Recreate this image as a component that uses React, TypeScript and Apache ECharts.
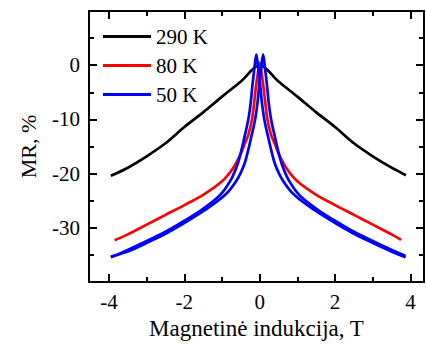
import React, { useEffect, useRef } from "react";
import * as echarts from "echarts";

// 290 K
const blackX = [-3.95, -3.5, -3, -2.5, -2, -1.5, -1, -0.5, 0, 0.5, 1, 1.5, 2, 2.5, 3, 3.5, 3.88];
const blackY = [-20.4, -18.9, -16.8, -14.4, -11.4, -8.7, -5.8, -3.0, 0, -3.0, -5.8, -8.7, -11.4, -14.4, -16.8, -18.9, -20.3];

// 80 K
const redX = [-3.85, -3.5, -3, -2.5, -2, -1.5, -1, -0.7, -0.5, -0.4, -0.3, -0.2, -0.1, -0.05, 0, 0.05, 0.1, 0.2, 0.3, 0.4, 0.5, 0.7, 1, 1.5, 2, 2.5, 3, 3.5, 3.75];
const redY = [-32.3, -31.2, -29.4, -27.6, -25.8, -23.9, -21.4, -18.9, -16.3, -14.5, -12.8, -9.8, -4, -1.5, 0.5, -1.5, -4, -9.8, -12.8, -14.5, -16.3, -18.9, -21.4, -23.9, -25.8, -27.6, -29.4, -31.2, -32.2];

// 50 K, sweep with peak at negative field
const blueAX = [-3.95, -3.55, -3.05, -2.55, -2.05, -1.55, -1.06, -0.77, -0.59, -0.49, -0.39, -0.34, -0.29, -0.24, -0.19, -0.14, -0.09, -0.04, 0.01, 0.06, 0.11, 0.16, 0.21, 0.31, 0.41, 0.61, 0.93, 1.45, 1.95, 2.45, 2.95, 3.45, 3.87];
const blueAY = [-35.4, -34.2, -32.6, -30.9, -28.9, -26.7, -24.0, -21.2, -18.3, -15.8, -12.8, -11.3, -9.5, -7.0, -3.5, -0.5, 2.0, -0.5, -3.5, -7.0, -9.5, -11.3, -12.8, -15.8, -18.3, -21.2, -24.0, -26.7, -28.9, -30.9, -32.6, -34.2, -35.4];

// 50 K, sweep with peak at positive field
const blueBX = [-3.95, -3.45, -2.95, -2.45, -1.95, -1.45, -0.93, -0.61, -0.41, -0.31, -0.21, -0.16, -0.11, -0.06, -0.01, 0.04, 0.09, 0.14, 0.19, 0.24, 0.29, 0.34, 0.39, 0.49, 0.59, 0.77, 1.06, 1.55, 2.05, 2.55, 3.05, 3.55, 3.87];
const blueBY = [-35.3, -34.2, -32.6, -30.9, -28.9, -26.7, -24.0, -21.2, -18.3, -15.8, -12.8, -11.3, -9.5, -7.0, -3.5, -0.5, 2.0, -0.5, -3.5, -7.0, -9.5, -11.3, -12.8, -15.8, -18.3, -21.2, -24.0, -26.7, -28.9, -30.9, -32.6, -34.2, -35.2];

const xMajor = [-4, -2, 0, 2, 4];
const xMinor = [-3, -1, 1, 3];
const yLabels = [-30, -20, -10, 0];

const legendNames = ["290 K", "80 K", "50 K"];
const xTitle = "Magnetinė indukcija, T";
const yTitle = "MR, %";

const FONT = "'Liberation Serif', 'DejaVu Serif', serif";

const zip = (xs: number[], ys: number[]) => xs.map((x, i) => [x, ys[i]]);

export default function App() {
  const ref = useRef<HTMLDivElement>(null);
  useEffect(() => {
    if (!ref.current) return;
    const chart = echarts.init(ref.current, undefined, { renderer: "svg" });
    const xmin = -4.53;
    const xmax = 4.36;
    const axLine = { show: true, onZero: false, lineStyle: { color: "#000", width: 2 } };
    const xAxisBase = (pos: string, vals: number[], len: number, labels: boolean, name?: string) => ({
      type: "value",
      position: pos,
      min: xmin,
      max: xmax,
      splitLine: { show: false },
      axisLine: axLine,
      axisTick: { show: true, inside: true, length: len, customValues: vals, lineStyle: { color: "#000", width: 2 } },
      axisLabel: labels
        ? { show: true, customValues: vals, fontFamily: FONT, fontSize: 21, color: "#000", margin: 9 }
        : { show: false },
      name: name,
      nameLocation: "middle",
      nameGap: 33,
      nameTextStyle: { fontFamily: FONT, fontSize: 23, color: "#000" },
    });
    const yAxisBase = (pos: string, labels: boolean, name?: string) => ({
      type: "value",
      position: pos,
      min: -40,
      max: 10,
      interval: 10,
      splitLine: { show: false },
      axisLine: axLine,
      axisTick: { show: true, inside: true, length: 8, lineStyle: { color: "#000", width: 2 } },
      minorTick: { show: true, splitNumber: 2, length: 5, lineStyle: { color: "#000", width: 2 } },
      axisLabel: labels
        ? {
            show: true,
            fontFamily: FONT,
            fontSize: 21,
            color: "#000",
            margin: 9,
            formatter: (v: number) => (yLabels.includes(v) ? String(v) : ""),
          }
        : { show: false },
      name: name,
      nameLocation: "middle",
      nameGap: 50,
      nameTextStyle: { fontFamily: FONT, fontSize: 22, color: "#000" },
    });
    const lineSeries = (name: string, data: number[][], color: string, width: number) => ({
      type: "line",
      name,
      data,
      xAxisIndex: 0,
      yAxisIndex: 0,
      symbol: "none",
      smooth: 0.3,
      lineStyle: { color, width },
      itemStyle: { color },
      z: 3,
    });
    chart.setOption({
      animation: false,
      textStyle: { fontFamily: FONT, color: "#000" },
      grid: { left: 89, right: 2, top: 11, bottom: 58 },
      legend: {
        data: legendNames,
        left: 98,
        top: 21,
        orient: "vertical",
        itemWidth: 48,
        itemHeight: 3,
        itemGap: 8,
        icon: "rect",
        textStyle: { fontFamily: FONT, fontSize: 21, color: "#000", lineHeight: 19 },
      },
      xAxis: [
        xAxisBase("bottom", xMajor, 8, true, xTitle),
        xAxisBase("bottom", xMinor, 5, false),
        xAxisBase("top", xMajor, 8, false),
        xAxisBase("top", xMinor, 5, false),
      ],
      yAxis: [yAxisBase("left", true, yTitle), yAxisBase("right", false)],
      series: [
        lineSeries("290 K", zip(blackX, blackY), "#000000", 2.7),
        lineSeries("80 K", zip(redX, redY), "#ff0000", 2.7),
        lineSeries("50 K", zip(blueAX, blueAY), "#0000ff", 2.7),
        lineSeries("50 K", zip(blueBX, blueBY), "#0000ff", 2.7),
      ],
    });
    return () => chart.dispose();
  }, []);
  return <div ref={ref} style={{ width: 426, height: 345, position: "absolute", left: 0, top: 0 }} />;
}
